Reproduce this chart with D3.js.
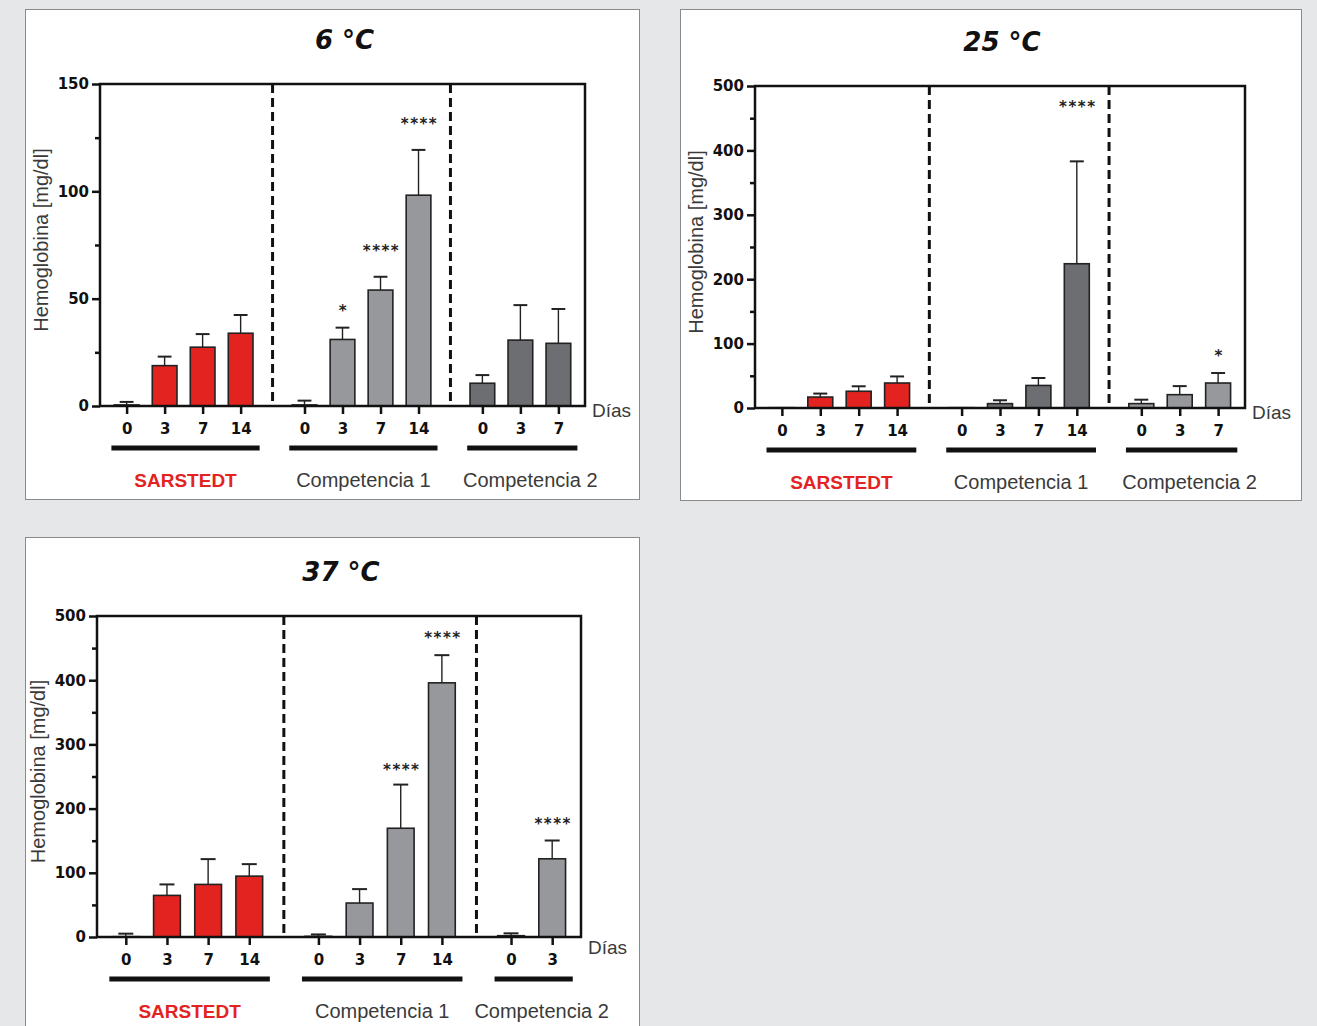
<!DOCTYPE html>
<html>
<head>
<meta charset="utf-8">
<script src="https://cdn.jsdelivr.net/npm/d3@7"></script>
<style>
  body { margin: 0; background: #e6e7e8; }
  svg { display: block; }
</style>
</head>
<body>
<div class="canvas"></div>
<script>
// ---- data ----
const groupNames = ['SARSTEDT', 'Competencia 1', 'Competencia 2']

// 6 °C
const days6 = [[0, 3, 7, 14], [0, 3, 7, 14], [0, 3, 7]]
const mean6 = [[0.5, 18.8, 27.4, 33.9], [0.5, 31, 54, 98.2], [10.6, 30.7, 29.2]]
const sd6 = [[1.4, 4.2, 6.1, 8.5], [2, 5.5, 6.2, 21.1], [3.8, 16.3, 16]]
const stars6 = [['', '', '', ''], ['', '*', '****', '****'], ['', '', '']]
const starY6 = [[0, 0, 0, 0], [0, 46, 74, 133], [0, 0, 0]]

// 25 °C
const days25 = [[0, 3, 7, 14], [0, 3, 7, 14], [0, 3, 7]]
const mean25 = [[0.5, 17, 26, 38.8], [0.5, 6.8, 35, 224], [6.8, 20.7, 38.8]]
const sd25 = [[0, 5.4, 7.7, 10.2], [0, 5.2, 11.6, 159], [6.1, 13.3, 15.5]]
const stars25 = [['', '', '', ''], ['', '', '', '****'], ['', '', '*']]
const starY25 = [[0, 0, 0, 0], [0, 0, 0, 474], [0, 0, 87]]

// 37 °C
const days37 = [[0, 3, 7, 14], [0, 3, 7, 14], [0, 3]]
const mean37 = [[0.5, 64.8, 81.9, 94.8], [1, 52.9, 169.4, 395.9], [2, 121.8]]
const sd37 = [[4.7, 17.1, 39.4, 18.7], [3, 21.7, 68, 43.1], [3.7, 28.5]]
const stars37 = [['', '', '', ''], ['', '', '****', '****'], ['', '****']]
const starY37 = [[0, 0, 0, 0], [0, 0, 266, 472], [0, 183]]

const yTicks150 = [0, 50, 100, 150]
const yMinor150 = [25, 75, 125]
const yTicks500 = [0, 100, 200, 300, 400, 500]
const yMinor500 = [50, 150, 250, 350, 450]

const RED = '#e3231f'
const LIGHT = '#97989c'
const DARK = '#6c6e71'

const svg = d3.select('.canvas').append('svg')
  .attr('width', 1317)
  .attr('height', 1026)

const panels = [
  { title: '6 °C', box: [25, 9, 614, 490], plot: { left: 100, right: 585, top: 84, bottom: 406 },
    yMax: 150, ticks: yTicks150, minor: yMinor150, days: days6, mean: mean6, sd: sd6,
    stars: stars6, starY: starY6, fills: [RED, LIGHT, DARK], diasDy: 11 },
  { title: '25 °C', box: [680, 9, 621, 491], plot: { left: 755, right: 1245, top: 86, bottom: 408 },
    yMax: 500, ticks: yTicks500, minor: yMinor500, days: days25, mean: mean25, sd: sd25,
    stars: stars25, starY: starY25, fills: [RED, DARK, LIGHT], diasDy: 11 },
  { title: '37 °C', box: [25, 537, 614, 520], plot: { left: 97, right: 581, top: 616, bottom: 937 },
    yMax: 500, ticks: yTicks500, minor: yMinor500, days: days37, mean: mean37, sd: sd37,
    stars: stars37, starY: starY37, fills: [RED, LIGHT, LIGHT], diasDy: 17 }
]

const GAP = 0.68
const EDGE = 0.7

const drawPanel = (p) => {
  const g = svg.append('g')

  g.append('rect')
    .attr('x', p.box[0] + 0.5).attr('y', p.box[1] + 0.5)
    .attr('width', p.box[2]).attr('height', p.box[3])
    .attr('fill', '#fff')
    .attr('stroke', '#8a8a8a')
    .attr('stroke-width', 1)

  // flatten the bars into one list with a slot position each
  const bars = []
  let start = 0
  p.days.forEach((ds, gi) => {
    ds.forEach((d, i) => {
      bars.push({ group: gi, day: d, pos: start + i, mean: p.mean[gi][i], sd: p.sd[gi][i],
        star: p.stars[gi][i], starY: p.starY[gi][i] })
    })
    start += ds.length + GAP
  })
  const lastPos = bars[bars.length - 1].pos

  const x = d3.scaleLinear()
    .domain([-EDGE, lastPos + EDGE])
    .range([p.plot.left, p.plot.right])
  const step = x(1) - x(0)
  const bw = step * 0.65

  const y = d3.scaleLinear()
    .domain([0, p.yMax])
    .range([p.plot.bottom, p.plot.top])

  // title
  g.append('text')
    .attr('x', (p.plot.left + p.plot.right) / 2 + 2)
    .attr('y', p.plot.top - 35)
    .attr('text-anchor', 'middle')
    .attr('font-family', 'DejaVu Sans, sans-serif')
    .attr('font-weight', 'bold')
    .attr('font-style', 'italic')
    .attr('font-size', 26)
    .attr('fill', '#111')
    .text(p.title)

  // y axis
  const yAxisGroup = g.append('g')
    .attr('transform', `translate(${p.plot.left},0)`)
    .call(d3.axisLeft(y).tickValues(p.ticks).tickSize(8).tickPadding(3))
  const yMinorGroup = g.append('g')
    .attr('transform', `translate(${p.plot.left},0)`)
    .call(d3.axisLeft(y).tickValues(p.minor).tickSize(5).tickFormat(''))
  ;[yAxisGroup, yMinorGroup].forEach(ax => {
    ax.select('.domain').remove()
    ax.selectAll('line').attr('stroke', '#111').attr('stroke-width', 2.5)
  })
  yAxisGroup.selectAll('text')
    .attr('font-family', 'DejaVu Sans, sans-serif')
    .attr('font-weight', 'bold')
    .attr('font-size', 15)
    .attr('fill', '#111')

  g.append('text')
    .attr('transform', `translate(${p.plot.left - 52},${(p.plot.top + p.plot.bottom) / 2 - 5}) rotate(-90)`)
    .attr('text-anchor', 'middle')
    .attr('font-family', 'Liberation Sans, Arial, sans-serif')
    .attr('font-size', 20)
    .attr('fill', '#3a3a3a')
    .text('Hemoglobina [mg/dl]')

  // x axis (days)
  const xAxisGroup = g.append('g')
    .attr('transform', `translate(0,${p.plot.bottom})`)
    .call(d3.axisBottom(x)
      .tickValues(bars.map(b => b.pos))
      .tickFormat((v, i) => bars[i].day)
      .tickSize(8).tickPadding(9))
  xAxisGroup.select('.domain').remove()
  xAxisGroup.selectAll('line').attr('stroke', '#111').attr('stroke-width', 2.5)
  xAxisGroup.selectAll('text')
    .attr('font-family', 'DejaVu Sans, sans-serif')
    .attr('font-weight', 'bold')
    .attr('font-size', 15)
    .attr('fill', '#111')

  g.append('text')
    .attr('x', p.plot.right + 7)
    .attr('y', p.plot.bottom + p.diasDy)
    .attr('font-family', 'Liberation Sans, Arial, sans-serif')
    .attr('font-size', 19)
    .attr('fill', '#3a3a3a')
    .text('Días')

  // group separators
  const groupBars = p.days.map((ds, gi) => bars.filter(b => b.group === gi))
  for (let gi = 0; gi < groupBars.length - 1; gi++) {
    const a = groupBars[gi][groupBars[gi].length - 1].pos
    const b = groupBars[gi + 1][0].pos
    g.append('line')
      .attr('x1', x((a + b) / 2)).attr('x2', x((a + b) / 2))
      .attr('y1', p.plot.top).attr('y2', p.plot.bottom)
      .attr('stroke', '#111')
      .attr('stroke-width', 3)
      .attr('stroke-dasharray', '9,5')
  }

  // error bars
  const errs = g.selectAll('.err').data(bars.filter(b => b.sd > 0))
    .enter().append('g').attr('class', 'err')
  errs.append('line')
    .attr('x1', d => x(d.pos)).attr('x2', d => x(d.pos))
    .attr('y1', d => y(d.mean)).attr('y2', d => y(d.mean + d.sd))
    .attr('stroke', '#222').attr('stroke-width', 1.4)
  errs.append('line')
    .attr('x1', d => x(d.pos) - bw * 0.28).attr('x2', d => x(d.pos) + bw * 0.28)
    .attr('y1', d => y(d.mean + d.sd)).attr('y2', d => y(d.mean + d.sd))
    .attr('stroke', '#222').attr('stroke-width', 2)

  // bars
  g.selectAll('.bar').data(bars)
    .enter().append('rect')
    .attr('class', 'bar')
    .attr('x', d => x(d.pos) - bw / 2)
    .attr('width', bw)
    .attr('y', d => y(d.mean))
    .attr('height', d => p.plot.bottom - y(d.mean))
    .attr('fill', d => p.fills[d.group])
    .attr('stroke', '#222')
    .attr('stroke-width', 1.6)

  // significance stars
  g.selectAll('.star').data(bars.filter(b => b.star))
    .enter().append('text')
    .attr('class', 'star')
    .attr('x', d => x(d.pos) + 1)
    .attr('y', d => y(d.starY) + 9)
    .attr('text-anchor', 'middle')
    .attr('font-family', 'DejaVu Sans, sans-serif')
    .attr('font-weight', 'bold')
    .attr('font-size', 15)
    .attr('letter-spacing', 1.5)
    .attr('fill', '#222')
    .text(d => d.star)

  // plot frame
  g.append('rect')
    .attr('x', p.plot.left).attr('y', p.plot.top)
    .attr('width', p.plot.right - p.plot.left)
    .attr('height', p.plot.bottom - p.plot.top)
    .attr('fill', 'none')
    .attr('stroke', '#111')
    .attr('stroke-width', 2.5)

  // group underlines and labels
  groupBars.forEach((gb, gi) => {
    const x0 = x(gb[0].pos - 0.4)
    const x1 = x(gb[gb.length - 1].pos + 0.5)
    g.append('line')
      .attr('x1', x0).attr('x2', x1)
      .attr('y1', p.plot.bottom + 42).attr('y2', p.plot.bottom + 42)
      .attr('stroke', '#111')
      .attr('stroke-width', 5)
    g.append('text')
      .attr('x', (x0 + x1) / 2 + (gi === groupBars.length - 1 ? 8 : 0))
      .attr('y', p.plot.bottom + 81)
      .attr('text-anchor', 'middle')
      .attr('font-family', 'Liberation Sans, Arial, sans-serif')
      .attr('font-weight', gi === 0 ? 'bold' : 'normal')
      .attr('font-size', gi === 0 ? 19 : 20)
      .attr('fill', gi === 0 ? RED : '#3a3a3a')
      .text(groupNames[gi])
  })
}

panels.forEach(drawPanel)
</script>
</body>
</html>
